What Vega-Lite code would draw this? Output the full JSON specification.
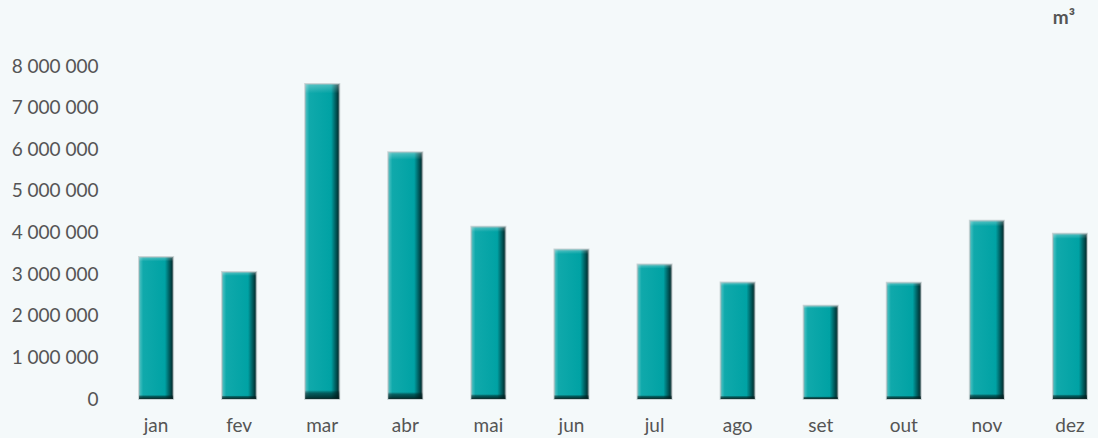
{
  "$schema": "https://vega.github.io/schema/vega-lite/v6.json",
  "width": 993,
  "height": 333,
  "autosize": {"type": "none"},
  "padding": {"left": 105, "top": 66, "right": 0, "bottom": 39},
  "background": "#F4F9FA",
  "config": {
    "view": {"stroke": null},
    "font": "Lato",
    "locale": {"number": {"decimal": ",", "thousands": " ", "grouping": [3], "currency": ["", " €"]}}
  },
  "title": {
    "text": "m³",
    "anchor": "end",
    "frame": "group",
    "dx": -23,
    "offset": 29,
    "fontSize": 19,
    "fontWeight": "bold",
    "color": "#555555",
    "font": "Lato"
  },
  "data": {
    "values": [
      {"mes": "jan", "caudal": 3410000},
      {"mes": "fev", "caudal": 3050000},
      {"mes": "mar", "caudal": 7570000},
      {"mes": "abr", "caudal": 5930000},
      {"mes": "mai", "caudal": 4140000},
      {"mes": "jun", "caudal": 3590000},
      {"mes": "jul", "caudal": 3230000},
      {"mes": "ago", "caudal": 2800000},
      {"mes": "set", "caudal": 2240000},
      {"mes": "out", "caudal": 2790000},
      {"mes": "nov", "caudal": 4280000},
      {"mes": "dez", "caudal": 3970000}
    ]
  },
  "encoding": {
    "x": {
      "field": "mes",
      "type": "nominal",
      "sort": null,
      "scale": {"paddingInner": 0.59, "paddingOuter": 0.271, "align": 0.756},
      "axis": {
        "title": null,
        "labelAngle": 0,
        "domain": false,
        "ticks": false,
        "labelPadding": 17,
        "labelFontSize": 19,
        "labelColor": "#555555",
        "labelFont": "Lato"
      }
    },
    "y": {
      "field": "caudal",
      "type": "quantitative",
      "scale": {"domain": [0, 8000000], "nice": false},
      "axis": {
        "title": null,
        "values": [0, 1000000, 2000000, 3000000, 4000000, 5000000, 6000000, 7000000, 8000000],
        "format": ",d",
        "domain": false,
        "ticks": false,
        "grid": false,
        "labelPadding": 7,
        "labelFontSize": 19,
        "labelColor": "#555555",
        "labelFont": "Lato"
      }
    }
  },
  "layer": [
    {
      "mark": {
        "type": "bar",
        "stroke": "#9aa6a8",
        "strokeOpacity": 0.45,
        "strokeWidth": 2,
        "fill": {
          "gradient": "linear",
          "x1": 0, "y1": 0, "x2": 1, "y2": 0,
          "stops": [
            {"offset": 0, "color": "#52C4C5"},
            {"offset": 0.12, "color": "#10A9AB"},
            {"offset": 0.76, "color": "#00A2A4"},
            {"offset": 0.88, "color": "#006264"},
            {"offset": 1, "color": "#002526"}
          ]
        }
      }
    },
    {
      "mark": {
        "type": "bar",
        "fill": {
          "gradient": "linear",
          "x1": 0, "y1": 0, "x2": 0, "y2": 1,
          "stops": [
            {"offset": 0, "color": "rgba(255,255,255,0.3)"},
            {"offset": 0.018, "color": "rgba(255,255,255,0.12)"},
            {"offset": 0.03, "color": "rgba(255,255,255,0)"},
            {"offset": 0.972, "color": "rgba(0,0,0,0)"},
            {"offset": 0.982, "color": "rgba(0,30,30,0.55)"},
            {"offset": 1, "color": "rgba(0,20,20,0.85)"}
          ]
        }
      }
    }
  ]
}
